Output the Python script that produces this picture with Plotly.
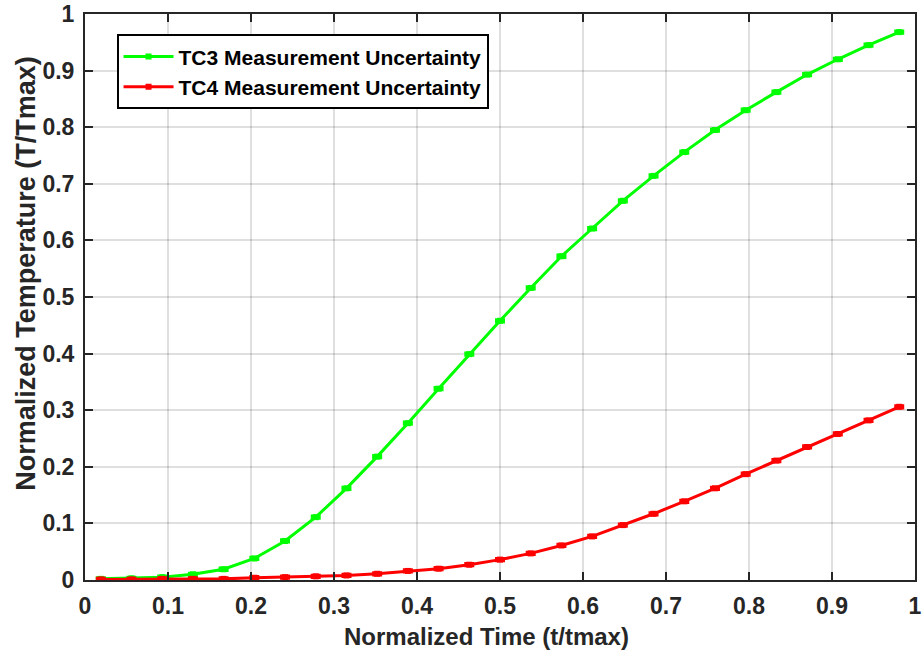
import plotly.graph_objects as go

# Data
t_norm = [0.019, 0.056, 0.093, 0.130, 0.167, 0.204, 0.241, 0.278, 0.315, 0.352,
          0.389, 0.426, 0.463, 0.500, 0.537, 0.574, 0.611, 0.648, 0.685, 0.722,
          0.759, 0.796, 0.833, 0.870, 0.907, 0.944, 0.981]
tc3 = [0.002, 0.003, 0.005, 0.010, 0.019, 0.038, 0.069, 0.111, 0.162, 0.218,
       0.277, 0.338, 0.399, 0.458, 0.516, 0.572, 0.621, 0.670, 0.714, 0.756,
       0.795, 0.830, 0.862, 0.893, 0.920, 0.945, 0.968]
tc4 = [0.001, 0.001, 0.002, 0.002, 0.002, 0.004, 0.005, 0.0065, 0.008, 0.011,
       0.016, 0.020, 0.027, 0.036, 0.047, 0.061, 0.077, 0.097, 0.117, 0.139,
       0.162, 0.187, 0.211, 0.235, 0.258, 0.282, 0.306]
tc3_err = [0.002] * len(t_norm)
tc4_err = [0.002] * len(t_norm)
tick_vals = [0, 0.1, 0.2, 0.3, 0.4, 0.5, 0.6, 0.7, 0.8, 0.9, 1]
tick_text = ["0", "0.1", "0.2", "0.3", "0.4", "0.5", "0.6", "0.7", "0.8", "0.9", "1"]
x_title = "Normalized Time (t/tmax)"
y_title = "Normalized Temperature (T/Tmax)"

FONT = "Liberation Sans"
AX = "#262626"

fig = go.Figure()
for name, ys, err, col in [("TC3 Measurement Uncertainty", tc3, tc3_err, "#00ff00"),
                           ("TC4 Measurement Uncertainty", tc4, tc4_err, "#ff0000")]:
    fig.add_trace(go.Scatter(
        x=t_norm, y=ys, name=name, mode="lines+markers",
        line=dict(color=col, width=3),
        marker=dict(symbol="square", size=6, color=col),
        error_y=dict(type="data", array=err, visible=True, color=col,
                     thickness=3, width=5),
    ))

axis_common = dict(
    range=[0, 1], tickvals=tick_vals, ticktext=tick_text,
    showline=True, linecolor=AX, linewidth=2, mirror="ticks",
    ticks="inside", ticklen=8, tickwidth=2, tickcolor=AX,
    showgrid=True, gridcolor="rgba(38,38,38,0.15)", gridwidth=1.5,
    zeroline=False, automargin=False,
    tickfont=dict(family=FONT, size=23, color=AX, weight="bold"),
)

fig.update_xaxes(**axis_common, ticklabelstandoff=4)
fig.update_yaxes(**axis_common, ticklabelstandoff=4)

fig.add_annotation(text=x_title, xref="paper", yref="paper", x=0.484, y=-0.099,
                   xanchor="center", yanchor="middle", showarrow=False,
                   font=dict(family=FONT, size=24, color=AX, weight="bold"))
fig.add_annotation(text=y_title, xref="paper", yref="paper", x=-0.071, y=0.541,
                   xanchor="center", yanchor="middle", textangle=-90,
                   showarrow=False,
                   font=dict(family=FONT, size=27, color=AX, weight="bold"))

fig.update_layout(
    width=922, height=656,
    margin=dict(l=85, r=7, t=14, b=76, autoexpand=False),
    paper_bgcolor="white", plot_bgcolor="white",
    showlegend=True,
    legend=dict(x=0.038, y=0.964, xanchor="left", yanchor="top",
                bgcolor="white", bordercolor="black", borderwidth=2,
                font=dict(family=FONT, size=21, color="black", weight="bold"),
                itemwidth=50, tracegroupgap=0),
)

fig.write_html("out.html")
